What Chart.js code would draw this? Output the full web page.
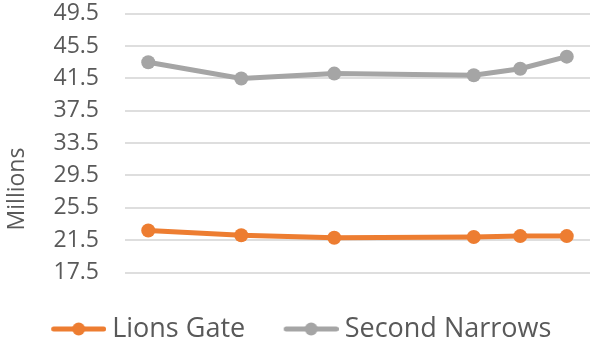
<!DOCTYPE html>
<html>
<head>
<meta charset="utf-8">
<script src="https://cdn.jsdelivr.net/npm/chart.js@4.4.1/dist/chart.umd.min.js"></script>
<style>
  body { margin: 0; background: #fff; }
  #wrap { width: 597px; height: 346px; }
</style>
</head>
<body>
<div id="wrap"><canvas id="bridgeChart"></canvas></div>
<script>
var years = [2005, 2007, 2009, 2012, 2013, 2014];
var lionsGate = [22.7, 22.1, 21.8, 21.9, 22.0, 22.0];
var secondNarrows = [43.5, 41.5, 42.1, 41.9, 42.7, 44.2];
var yTicks = [17.5, 21.5, 25.5, 29.5, 33.5, 37.5, 41.5, 45.5, 49.5];

var textColor = "#595959";
var fontFamily = "'Open Sans', sans-serif";

function toPoints(values) {
  return values.map(function (v, i) { return { x: years[i], y: v }; });
}

// little line-with-dot swatch for the legend
function legendMarker(color) {
  var c = document.createElement("canvas");
  c.width = 67;
  c.height = 16;
  var g = c.getContext("2d");
  g.strokeStyle = color;
  g.lineWidth = 5;
  g.lineCap = "round";
  g.beginPath();
  g.moveTo(14.5, 8);
  g.lineTo(64.5, 8);
  g.stroke();
  g.fillStyle = color;
  g.beginPath();
  g.arc(39.5, 8, 6.5, 0, Math.PI * 2);
  g.fill();
  return c;
}

// rotated "Millions" label beside the value axis
var axisTitle = {
  id: "axisTitle",
  afterDraw: function (chart) {
    var ctx = chart.ctx;
    ctx.save();
    ctx.translate(17, 189);
    ctx.rotate(-Math.PI / 2);
    ctx.fillStyle = textColor;
    ctx.font = "23px " + fontFamily;
    ctx.textAlign = "center";
    ctx.textBaseline = "middle";
    ctx.fillText("Millions", 0, 0);
    ctx.restore();
  }
};

var ctx = document.getElementById("bridgeChart").getContext("2d");
var bridgeChart = new Chart(ctx, {
  type: "line",
  data: {
    datasets: [
      {
        label: "Lions Gate",
        data: toPoints(lionsGate),
        borderColor: "#ED7D31",
        backgroundColor: "#ED7D31",
        borderWidth: 5,
        pointRadius: 7,
        pointHoverRadius: 7,
        pointBorderWidth: 0,
        tension: 0
      },
      {
        label: "Second Narrows",
        data: toPoints(secondNarrows),
        borderColor: "#A5A5A5",
        backgroundColor: "#A5A5A5",
        borderWidth: 5,
        pointRadius: 7,
        pointHoverRadius: 7,
        pointBorderWidth: 0,
        tension: 0
      }
    ]
  },
  options: {
    responsive: true,
    maintainAspectRatio: false,
    animation: false,
    layout: {
      padding: { left: 3, right: 2, top: 0, bottom: -6.5 }
    },
    scales: {
      x: {
        type: "linear",
        min: years[0] - 0.5,
        max: years[years.length - 1] + 0.5,
        grid: { display: false },
        border: { display: false },
        ticks: { display: false },
        afterFit: function (scale) {
          scale.height = 9;
          scale.paddingLeft = 0;
          scale.paddingRight = 0;
        }
      },
      y: {
        min: yTicks[0],
        max: yTicks[yTicks.length - 1],
        afterBuildTicks: function (scale) {
          scale.ticks = yTicks.map(function (v) { return { value: v }; });
        },
        afterFit: function (scale) { scale.width = 122; },
        grid: {
          color: "#DEDEDE",
          lineWidth: 2,
          drawTicks: true,
          tickLength: 26,
          tickColor: "rgba(0,0,0,0)"
        },
        border: { display: false },
        ticks: {
          autoSkip: false,
          padding: 0,
          color: textColor,
          font: { family: fontFamily, size: 23 },
          callback: function (v) { return v.toFixed(1); }
        }
      }
    },
    plugins: {
      legend: {
        position: "bottom",
        align: "center",
        labels: {
          usePointStyle: true,
          pointStyleWidth: 52,
          padding: 34,
          color: textColor,
          font: { family: fontFamily, size: 27 },
          generateLabels: function (chart) {
            return chart.data.datasets.map(function (ds, i) {
              return {
                text: ds.label,
                pointStyle: legendMarker(ds.borderColor),
                fillStyle: ds.borderColor,
                strokeStyle: ds.borderColor,
                lineWidth: 0,
                fontColor: textColor,
                hidden: false,
                datasetIndex: i
              };
            });
          }
        }
      },
      tooltip: { enabled: false }
    }
  },
  plugins: [axisTitle]
});
</script>
</body>
</html>
